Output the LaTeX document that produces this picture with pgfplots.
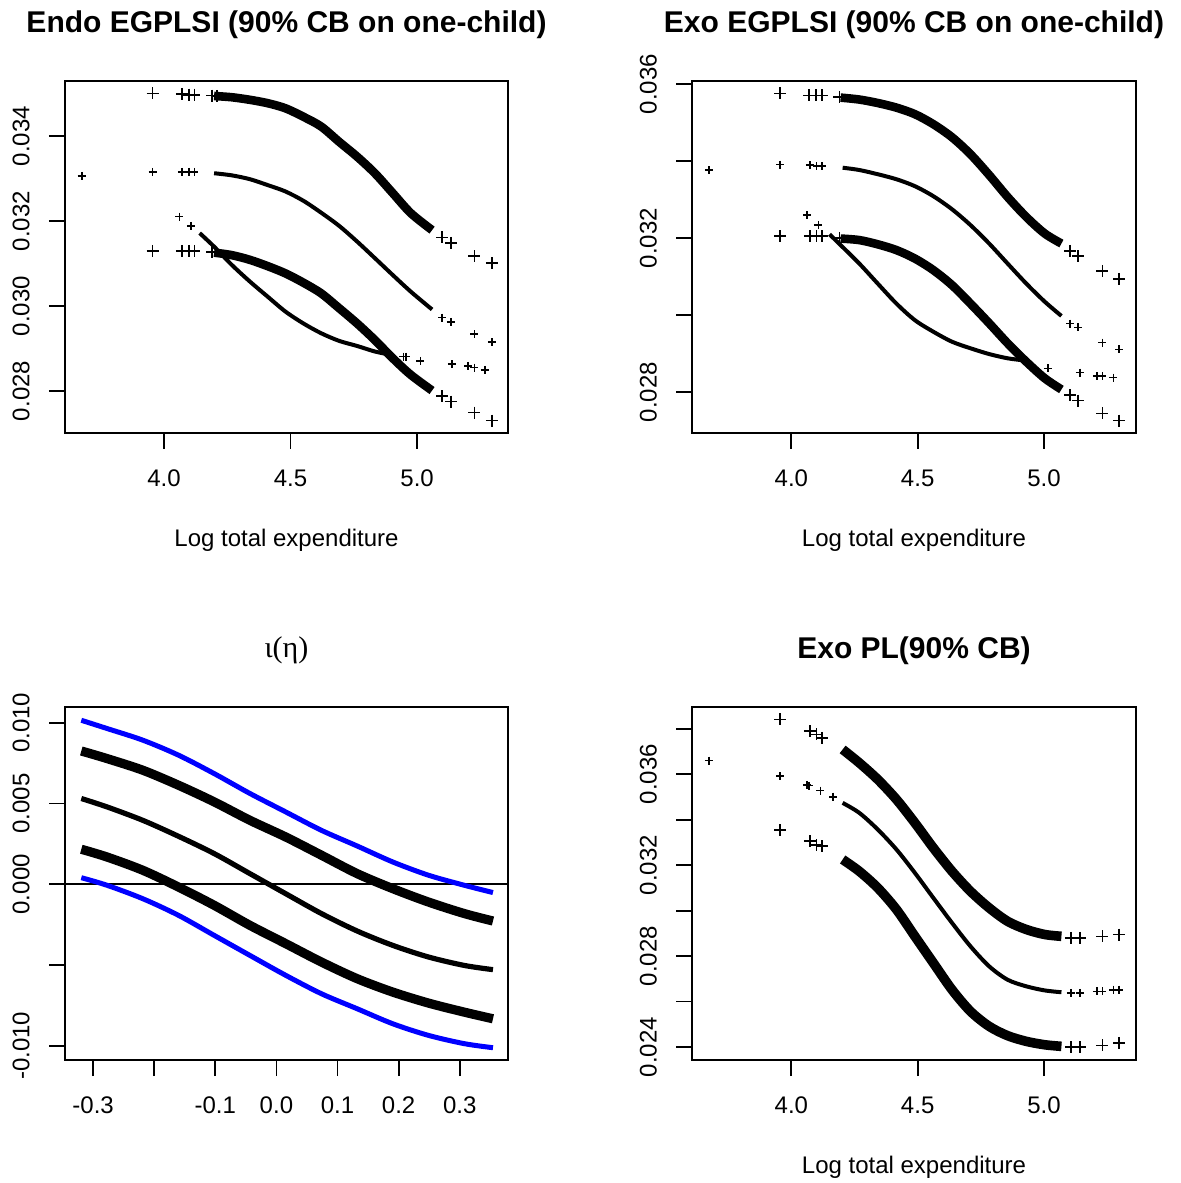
\documentclass[border=0pt]{standalone}
\usepackage{fontspec}
\setmainfont{Liberation Sans}
\newfontfamily\greekfont{Liberation Serif}
\usepackage{pgfplots}
\pgfplotsset{compat=1.18}
\definecolor{rblue}{RGB}{0,0,255}
\pgfplotsset{
  rstyle/.style={
    scale only axis,
    anchor=south west,
    axis line style={line width=0.9pt},
    every tick/.style={black, line width=0.9pt},
    tick align=outside,
    major tick length=8pt,
    xtick pos=left, ytick pos=left,
    scaled y ticks=false, scaled x ticks=false,
    clip=false,
    xticklabel style={font=\fontsize{12}{14}\selectfont, anchor=center, yshift=-14.8pt},
    yticklabel style={font=\fontsize{12}{14}\selectfont, xshift=-14pt, rotate=90, anchor=center},
    title style={font=\bfseries\fontsize{15}{18}\selectfont, at={(axis description cs:0.5,1)}, anchor=center, yshift=22pt},
    xlabel style={font=\fontsize{12}{14}\selectfont, at={(axis description cs:0.5,0)}, anchor=center, yshift=-53.5pt},
  },
  cb/.style={black, line width=4.3pt, smooth, no marks},
  est/.style={black, line width=2pt, smooth, no marks},
  bigp/.style={black, only marks, mark=+, mark size=3pt, mark options={line width=0.8pt}},
  smallp/.style={black, only marks, mark=+, mark size=2pt, mark options={line width=0.8pt}},
}
\begin{document}
\begin{tikzpicture}
\useasboundingbox (0,0) rectangle (590.5pt,591.5pt);

% ---------------- Panel 1: Endo EGPLSI
\begin{axis}[rstyle,
  at={(32.5pt,375pt)}, width=221.5pt, height=176.15pt,
  xmin=3.609, xmax=5.359, ymin=0.02701, ymax=0.03531,
  xtick={4.0,4.5,5.0}, xticklabels={4.0,4.5,5.0},
  ytick={0.028,0.030,0.032,0.034}, yticklabels={0.028,0.030,0.032,0.034},
  title={Endo EGPLSI (90\% CB on one-child)},
  xlabel={Log total expenditure}]
\addplot[cb] coordinates {(4.198,0.03495)(4.268,0.03492)(4.339,0.03486)(4.410,0.03478)(4.480,0.03466)(4.551,0.03446)(4.621,0.03423)(4.692,0.03387)(4.763,0.03352)(4.833,0.03313)(4.904,0.03266)(4.975,0.03219)(5.059,0.03179)};
\addplot[bigp] coordinates {(3.955,0.03501)(4.071,0.03500)(4.099,0.03498)(4.120,0.03498)(4.19,0.03496)(4.21,0.03495)(5.099,0.03162)(5.133,0.03149)(5.226,0.03118)(5.295,0.03101)};
\addplot[est] coordinates {(4.198,0.03313)(4.268,0.03308)(4.339,0.03299)(4.410,0.03285)(4.480,0.03270)(4.551,0.03248)(4.621,0.03220)(4.692,0.03189)(4.763,0.03152)(4.833,0.03113)(4.904,0.03073)(4.975,0.03034)(5.059,0.02992)};
\addplot[smallp] coordinates {(3.675,0.03307)(3.955,0.03316)(4.071,0.03316)(4.099,0.03316)(4.120,0.03316)(5.099,0.02973)(5.133,0.02963)(5.226,0.02934)(5.295,0.02915)};
\addplot[cb] coordinates {(4.198,0.03126)(4.268,0.03120)(4.339,0.03109)(4.410,0.03094)(4.480,0.03077)(4.551,0.03055)(4.621,0.03030)(4.692,0.02995)(4.763,0.02959)(4.833,0.02920)(4.904,0.02877)(4.975,0.02838)(5.059,0.02801)};
\addplot[bigp] coordinates {(3.955,0.03130)(4.071,0.03130)(4.099,0.03130)(4.120,0.03130)(4.19,0.03128)(5.099,0.02788)(5.133,0.02775)(5.226,0.02749)(5.295,0.02730)};
\addplot[est] coordinates {(4.141,0.03172)(4.198,0.03140)(4.268,0.03097)(4.339,0.03058)(4.410,0.03022)(4.480,0.02987)(4.551,0.02959)(4.621,0.02936)(4.692,0.02918)(4.763,0.02906)(4.833,0.02893)(4.890,0.02886)};
\addplot[smallp] coordinates {(4.061,0.03211)(4.106,0.03189)(4.946,0.02881)(4.955,0.02881)(5.013,0.02871)(5.137,0.02863)(5.201,0.02859)(5.226,0.02855)(5.268,0.02850)};
\end{axis}

% ---------------- Panel 2: Exo EGPLSI
\begin{axis}[rstyle,
  at={(346.15pt,375pt)}, width=221.7pt, height=176.15pt,
  xmin=3.608, xmax=5.363, ymin=0.02694, ymax=0.03609,
  xtick={4.0,4.5,5.0}, xticklabels={4.0,4.5,5.0},
  ytick={0.028,0.030,0.032,0.034,0.036}, yticklabels={0.028,,0.032,,0.036},
  title={Exo EGPLSI (90\% CB on one-child)},
  xlabel={Log total expenditure}]
\addplot[cb] coordinates {(4.195,0.03565)(4.269,0.03560)(4.342,0.03551)(4.416,0.03539)(4.489,0.03522)(4.562,0.03496)(4.636,0.03462)(4.709,0.03418)(4.783,0.03364)(4.856,0.03307)(4.930,0.03255)(5.003,0.03212)(5.069,0.03186)};
\addplot[bigp] coordinates {(3.956,0.03576)(4.070,0.03571)(4.097,0.03571)(4.122,0.03571)(4.19,0.03567)(5.103,0.03167)(5.135,0.03153)(5.231,0.03115)(5.297,0.03094)};
\addplot[est] coordinates {(4.203,0.03383)(4.269,0.03377)(4.342,0.03366)(4.416,0.03353)(4.489,0.03335)(4.562,0.03309)(4.636,0.03275)(4.709,0.03234)(4.783,0.03186)(4.856,0.03134)(4.930,0.03082)(5.003,0.03035)(5.069,0.02998)};
\addplot[smallp] coordinates {(3.674,0.03377)(3.956,0.03391)(4.073,0.03390)(4.100,0.03387)(4.122,0.03387)(5.103,0.02978)(5.135,0.02968)(5.231,0.02929)(5.297,0.02911)};
\addplot[cb] coordinates {(4.195,0.03199)(4.269,0.03195)(4.342,0.03184)(4.416,0.03169)(4.489,0.03147)(4.562,0.03117)(4.636,0.03078)(4.709,0.03030)(4.783,0.02979)(4.856,0.02927)(4.930,0.02879)(5.003,0.02836)(5.069,0.02807)};
\addplot[bigp] coordinates {(3.956,0.03205)(4.073,0.03205)(4.100,0.03205)(4.122,0.03205)(4.19,0.03201)(5.103,0.02792)(5.135,0.02778)(5.231,0.02745)(5.297,0.02726)};
\addplot[est] coordinates {(4.151,0.03210)(4.195,0.03182)(4.269,0.03134)(4.342,0.03082)(4.416,0.03030)(4.489,0.02987)(4.562,0.02957)(4.636,0.02931)(4.709,0.02914)(4.783,0.02899)(4.856,0.02888)(4.915,0.02883)};
\addplot[smallp] coordinates {(4.063,0.03260)(4.107,0.03234)(5.015,0.02862)(5.142,0.02851)(5.209,0.02842)(5.231,0.02842)(5.275,0.02838)};
\end{axis}

% ---------------- Panel 3: iota(eta)
\begin{axis}[rstyle,
  at={(32.5pt,61.5pt)}, width=221.5pt, height=176.65pt,
  xmin=-0.346, xmax=0.379, ymin=-0.01087, ymax=0.01099,
  xtick={-0.3,-0.2,-0.1,0,0.1,0.2,0.3}, xticklabels={-0.3,,-0.1,0.0,0.1,0.2,0.3},
  ytick={-0.010,-0.005,0,0.005,0.010}, yticklabels={-0.010,,0.000,0.005,0.010},
  title style={font=\greekfont\fontsize{15}{18}\selectfont},
  title={ι(η)}]
\addplot[black, line width=0.9pt] coordinates {(-0.346,0)(0.379,0)};
\addplot[rblue, line width=2.5pt, smooth] coordinates {(-0.3193,0.01015)(-0.2772,0.00964)(-0.2187,0.00892)(-0.1602,0.00799)(-0.1018,0.00685)(-0.0433,0.00562)(0.0152,0.00448)(0.0737,0.00334)(0.1322,0.00237)(0.1906,0.00138)(0.2491,0.00056)(0.3076,-0.00006)(0.3544,-0.00051)};
\addplot[black, line width=4.6pt, smooth] coordinates {(-0.3193,0.00825)(-0.2772,0.00778)(-0.2187,0.00706)(-0.1602,0.00613)(-0.1018,0.00510)(-0.0433,0.00396)(0.0152,0.00293)(0.0737,0.00180)(0.1322,0.00066)(0.1906,-0.00027)(0.2491,-0.00110)(0.3076,-0.00181)(0.3544,-0.00227)};
\addplot[black, line width=2.6pt, smooth] coordinates {(-0.3193,0.00531)(-0.2772,0.00479)(-0.2187,0.00396)(-0.1602,0.00297)(-0.1018,0.00190)(-0.0433,0.00066)(0.0152,-0.00058)(0.0737,-0.00181)(0.1322,-0.00289)(0.1906,-0.00378)(0.2491,-0.00450)(0.3076,-0.00502)(0.3544,-0.00528)};
\addplot[black, line width=4.6pt, smooth] coordinates {(-0.3193,0.00217)(-0.2772,0.00169)(-0.2187,0.00087)(-0.1602,-0.00017)(-0.1018,-0.00130)(-0.0433,-0.00254)(0.0152,-0.00367)(0.0737,-0.00481)(0.1322,-0.00584)(0.1906,-0.00667)(0.2491,-0.00735)(0.3076,-0.00791)(0.3544,-0.00832)};
\addplot[rblue, line width=2.5pt, smooth] coordinates {(-0.3193,0.00041)(-0.2772,-0.00006)(-0.2187,-0.00089)(-0.1602,-0.00192)(-0.1018,-0.00316)(-0.0433,-0.00440)(0.0152,-0.00563)(0.0737,-0.00677)(0.1322,-0.00770)(0.1906,-0.00863)(0.2491,-0.00935)(0.3076,-0.00986)(0.3544,-0.01011)};
\end{axis}

% ---------------- Panel 4: Exo PL
\begin{axis}[rstyle,
  at={(346.15pt,61.5pt)}, width=221.7pt, height=176.65pt,
  xmin=3.608, xmax=5.363, ymin=0.02343, ymax=0.03897,
  xtick={4.0,4.5,5.0}, xticklabels={4.0,4.5,5.0},
  ytick={0.024,0.026,0.028,0.030,0.032,0.034,0.036,0.038}, yticklabels={0.024,,0.028,,0.032,,0.036,},
  title={Exo PL(90\% CB)},
  xlabel={Log total expenditure}]
\addplot[cb, line width=4.8pt] coordinates {(4.203,0.03709)(4.269,0.03650)(4.342,0.03577)(4.416,0.03489)(4.489,0.03386)(4.562,0.03276)(4.636,0.03173)(4.709,0.03085)(4.783,0.03012)(4.856,0.02953)(4.930,0.02917)(5.003,0.02895)(5.069,0.02887)};
\addplot[bigp] coordinates {(3.956,0.03841)(4.073,0.03790)(4.100,0.03775)(4.122,0.03760)(5.106,0.02880)(5.142,0.02880)(5.231,0.02887)(5.297,0.02895)};
\addplot[est] coordinates {(4.203,0.03474)(4.269,0.03430)(4.342,0.03357)(4.416,0.03269)(4.489,0.03166)(4.562,0.03056)(4.636,0.02946)(4.709,0.02843)(4.783,0.02755)(4.856,0.02696)(4.930,0.02667)(5.003,0.02649)(5.069,0.02641)};
\addplot[smallp] coordinates {(3.674,0.03660)(3.956,0.03592)(4.063,0.03553)(4.070,0.03550)(4.115,0.03528)(4.166,0.03501)(5.106,0.02638)(5.142,0.02638)(5.209,0.02645)(5.231,0.02645)(5.275,0.02652)(5.297,0.02652)};
\addplot[cb, line width=4.8pt] coordinates {(4.203,0.03225)(4.269,0.03173)(4.342,0.03100)(4.416,0.03005)(4.489,0.02887)(4.562,0.02770)(4.636,0.02652)(4.709,0.02557)(4.783,0.02491)(4.856,0.02450)(4.930,0.02425)(5.003,0.02410)(5.069,0.02403)};
\addplot[bigp] coordinates {(3.956,0.03354)(4.073,0.03305)(4.100,0.03288)(4.122,0.03283)(5.106,0.02400)(5.142,0.02400)(5.231,0.02407)(5.297,0.02418)};
\end{axis}
\end{tikzpicture}
\end{document}
